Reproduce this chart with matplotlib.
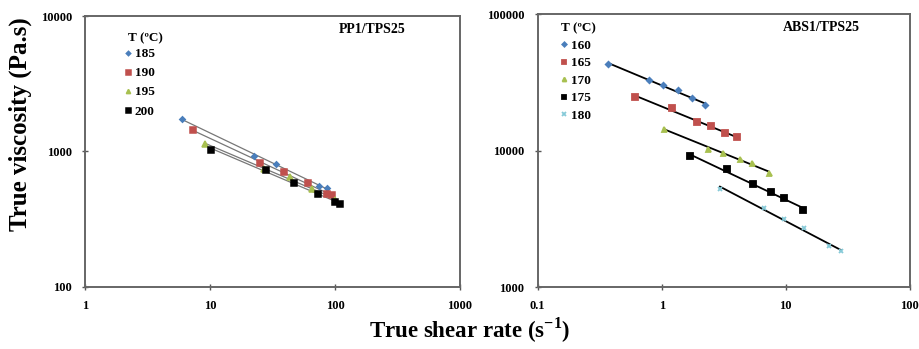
import matplotlib.pyplot as plt
import numpy as np

plt.rcParams["font.family"] = ["Liberation Serif", "DejaVu Serif"]
plt.rcParams["font.weight"] = "bold"
plt.rcParams["mathtext.fontset"] = "custom"
plt.rcParams["mathtext.rm"] = "Liberation Serif:bold"
plt.rcParams["mathtext.bf"] = "Liberation Serif:bold"

# PP1/TPS25 data: shear rate (1/s), viscosity (Pa.s)
pp_temps = ["185", "190", "195", "200"]
pp_rate = [
    [6.0, 22.5, 34.0, 75.0, 86.0],
    [7.35, 25.3, 38.9, 60.8, 86.3, 94.6],
    [9.2, 27.0, 44.0, 66.0, 100.0],
    [10.2, 28.1, 46.7, 73.5, 100.0, 109.6],
]
pp_visc = [
    [1738, 931, 804, 560, 535],
    [1432, 818, 710, 586, 483, 478],
    [1135, 745, 646, 526, 440],
    [1031, 729, 589, 483, 424, 410],
]

# ABS1/TPS25 data
abs_temps = ["160", "165", "170", "175", "180"]
abs_rate = [
    [0.372, 0.785, 1.03, 1.35, 1.76, 2.24],
    [0.614, 1.21, 1.93, 2.51, 3.26, 4.05],
    [1.05, 2.36, 3.14, 4.28, 5.35, 7.32],
    [1.68, 3.36, 5.44, 7.55, 9.73, 13.8],
    [2.95, 6.71, 9.73, 14.1, 22.4, 27.8],
]
abs_visc = [
    [43350, 32800, 30270, 27860, 24320, 21520],
    [24890, 20460, 16140, 15090, 13480, 12600],
    [14490, 10290, 9670, 8690, 8130, 6870],
    [9100, 7310, 5680, 4980, 4530, 3660],
    [5270, 3785, 3160, 2700, 2004, 1841],
]

BLUE = "#4A7EBB"
RED = "#C0504D"
GREEN = "#A8C050"
CYAN = "#86CAD8"
pp_styles = [("D", BLUE, 2.8), ("s", RED, 4.5), ("^", GREEN, 3.8), ("s", "black", 4.5)]
abs_styles = [("D", BLUE, 2.8), ("s", RED, 4.2), ("^", GREEN, 3.6), ("s", "black", 4.2), ("x", CYAN, 3.5)]


def powerfit(x, y):
    x = np.array(x)
    y = np.array(y)
    k, b = np.polyfit(np.log10(x), np.log10(y), 1)
    xs = np.array([x.min(), x.max()])
    return xs, 10 ** (b + k * np.log10(xs))


def setup(ax, xticks, xlabels, yticks, ylabels):
    ax.set_xscale("log")
    ax.set_yscale("log")
    ax.set_xlim(xticks[0], xticks[-1])
    ax.set_ylim(yticks[0], yticks[-1])
    ax.set_xticks(xticks)
    ax.set_xticklabels(xlabels)
    ax.set_yticks(yticks)
    ax.set_yticklabels(ylabels)
    ax.minorticks_off()
    ax.tick_params(direction="inout", length=4, width=1, color="#555555",
                   labelsize=9, pad=7.5)
    for s in ax.spines.values():
        s.set_color("#666666")
        s.set_linewidth(1.4)


fig = plt.figure(figsize=(9.19, 3.49), dpi=100)
ax1 = fig.add_axes([0.0925, 0.178, 0.408, 0.776])
ax2 = fig.add_axes([0.585, 0.177, 0.405, 0.782])

for t, x, y, (m, c, ms) in zip(pp_temps, pp_rate, pp_visc, pp_styles):
    xs, ys = powerfit(x, y)
    ax1.plot(xs, ys, color="#777777", lw=0.9, zorder=2)
    ax1.plot(x, y, ls="none", marker=m, color=c, ms=ms, mew=1.1, label=t, zorder=3)

for t, x, y, (m, c, ms) in zip(abs_temps, abs_rate, abs_visc, abs_styles):
    xs, ys = powerfit(x, y)
    ax2.plot(xs, ys, color="black", lw=1.3, zorder=2)
    ax2.plot(x, y, ls="none", marker=m, color=c, ms=ms, mew=1.3, label=t, zorder=3)

setup(ax1, [1, 10, 100, 1000], ["1", "10", "100", "1000"],
      [100, 1000, 10000], ["100", "1000", "10000"])
setup(ax2, [0.1, 1, 10, 100], ["0.1", "1", "10", "100"],
      [1000, 10000, 100000], ["1000", "10000", "100000"])

leg_kw = dict(frameon=False, loc="upper left", handlelength=0.5, handletextpad=0.3,
              borderaxespad=0, borderpad=0, markerscale=0.8,
              prop={"weight": "bold", "size": 9.5})
ax1.legend(bbox_to_anchor=(0.105, 0.882), labelspacing=0.52, **leg_kw)
ax2.legend(bbox_to_anchor=(0.062, 0.908), labelspacing=0.40, **leg_kw)

ax1.text(0.115, 0.918, "T (ºC)", transform=ax1.transAxes, fontsize=9.5,
         fontweight="bold", ha="left", va="center")
ax2.text(0.062, 0.95, "T (ºC)", transform=ax2.transAxes, fontsize=9.5,
         fontweight="bold", ha="left", va="center")

ax1.text(0.677, 0.952, "PP1/TPS25", transform=ax1.transAxes, fontsize=10,
         fontweight="bold", ha="left", va="center")
ax2.text(0.66, 0.95, "ABS1/TPS25", transform=ax2.transAxes, fontsize=10,
         fontweight="bold", ha="left", va="center")

fig.text(0.022, 0.645, "True viscosity (Pa.s)", rotation=90, fontsize=18,
         fontweight="bold", ha="center", va="center")
fig.text(0.511, 0.055, r"True shear rate (s$^{\mathbf{-1}}$)", fontsize=16.5,
         fontweight="bold", ha="center", va="center")

fig.savefig("out.png", dpi=100)
